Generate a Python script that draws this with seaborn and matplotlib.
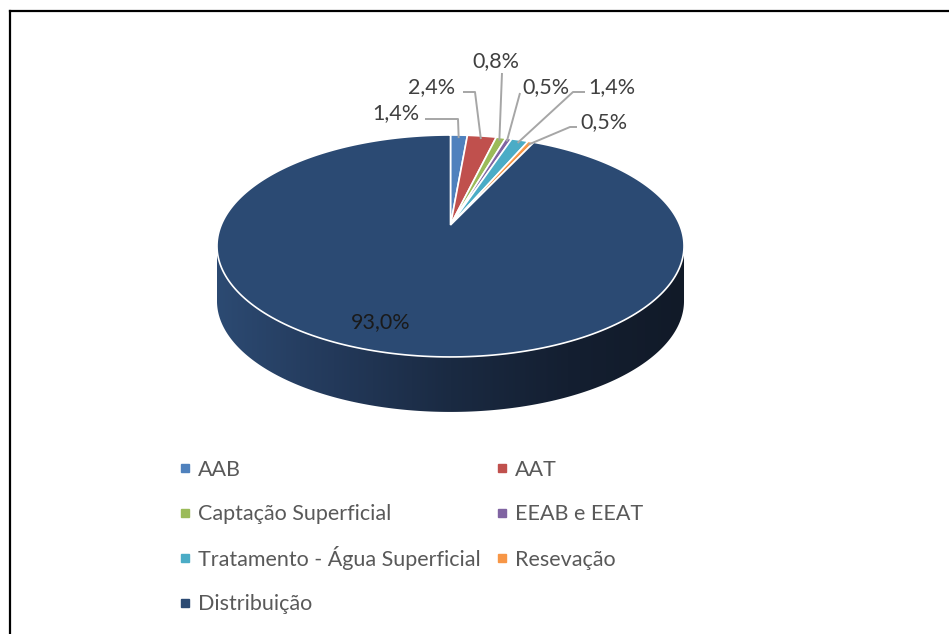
import numpy as np
import matplotlib
matplotlib.use("Agg")
import matplotlib.pyplot as plt
import matplotlib.transforms as mtransforms
from matplotlib.path import Path
from matplotlib.patches import Polygon
from matplotlib.colors import LinearSegmentedColormap
import seaborn as sns

# ---- data -------------------------------------------------------------
categories = ["AAB", "AAT", "Captação Superficial", "EEAB e EEAT",
              "Tratamento - Água Superficial", "Resevação", "Distribuição"]
shares = [1.4, 2.4, 0.8, 0.5, 1.4, 0.5, 93.0]
share_labels = ["1,4%", "2,4%", "0,8%", "0,5%", "1,4%", "0,5%", "93,0%"]
colors = ["#4f81bd", "#c0504d", "#9bbb59", "#8064a2",
          "#4bacc6", "#f79646", "#2b4a73"]

# ---- style ------------------------------------------------------------
sns.set_theme(style="white")
plt.rcParams["font.family"] = ["Lato", "DejaVu Sans"]
palette = sns.color_palette(colors)
FS = 15.5

W, H = 949, 634
fig = plt.figure(figsize=(W / 100, H / 100), dpi=100)
ax = fig.add_axes([0, 0, 1, 1])

# pixel-like coordinates: origin at the pie apex, y pointing up
APEX_X, APEX_Y = 450.5, 225.0


def to_ax(px, py):
    return px - APEX_X, APEX_Y - py


class TiltedDisk(mtransforms.Transform):
    """Perspective view of the unit disk lying on a tilted plane."""
    input_dims = output_dims = 2
    is_separable = False
    has_inverse = False

    def __init__(self, p, sx, sy):
        super().__init__()
        self.p, self.sx, self.sy = p, sx, sy

    def transform_non_affine(self, values):
        v = np.asarray(values, float).reshape(-1, 2)
        w = 1.0 + self.p * v[:, 1]
        return np.column_stack([self.sx * v[:, 0] / w, self.sy * v[:, 1] / w])

    def transform_path_non_affine(self, path):
        # flatten the curves finely before projecting
        k = 2000.0
        big = mtransforms.Affine2D().scale(k).transform_path(path)
        verts, codes = [], []
        for poly in big.to_polygons(closed_only=False):
            c = np.full(len(poly), Path.LINETO)
            c[0] = Path.MOVETO
            verts.append(poly / k)
            codes.append(c)
        verts = np.concatenate(verts)
        return Path(self.transform_non_affine(verts), np.concatenate(codes))


P = 0.189
disk = TiltedDisk(P, 229.3, 107.0)
DEPTH = 55.0

# ---- side wall of the pie (front rim extruded downwards) ---------------
t = np.linspace(np.pi + np.arcsin(P), 2 * np.pi - np.arcsin(P), 400)
rim = disk.transform(np.column_stack([np.cos(t), np.sin(t)]))
bottom = rim.copy()
bottom[:, 1] -= DEPTH
wall = np.vstack([rim, bottom[::-1]])
wall_patch = Polygon(wall, closed=True, facecolor="none", edgecolor="none")
ax.add_patch(wall_patch)
side_cmap = LinearSegmentedColormap.from_list(
    "side", ["#2c4a72", "#23395a", "#1a2a42", "#141f31", "#111a28"])
grad = np.linspace(0, 1, 256)[None, :]
img = ax.imshow(grad, cmap=side_cmap, aspect="auto", zorder=1,
                extent=[wall[:, 0].min(), wall[:, 0].max(),
                        wall[:, 1].min(), wall[:, 1].max()],
                interpolation="bilinear")
img.set_clip_path(wall_patch)

# ---- top face ---------------------------------------------------------
wedges, _ = ax.pie(shares, colors=palette, startangle=90, counterclock=False,
                   radius=1, wedgeprops=dict(edgecolor="white", linewidth=1.2))
for w in wedges:
    w.set_transform(disk + ax.transData)
    w.set_zorder(2)

# ---- percentage labels with leader lines ------------------------------
label_layout = [
    ((396, 113), (425, 119), (458, 119)),
    ((432, 87), (463, 92), (475, 92)),
    ((496, 61), (502, 73), (502, 73)),
    ((546, 87), (520, 93), (520, 93)),
    ((612, 87), (585, 92), (573, 92)),
    ((604, 122), (577, 127), (570, 127)),
]
bounds = np.concatenate([[0], np.cumsum(shares)]) / np.sum(shares)
for i, (txt_pos, start, elbow) in enumerate(label_layout):
    mid = np.pi / 2 - 2 * np.pi * (bounds[i] + bounds[i + 1]) / 2
    anchor = disk.transform([[0.96 * np.cos(mid), 0.96 * np.sin(mid)]])[0]
    xs = [to_ax(*start)[0], to_ax(*elbow)[0], anchor[0]]
    ys = [to_ax(*start)[1], to_ax(*elbow)[1], anchor[1]]
    ax.plot(xs, ys, color="#a6a6a6", lw=1.4, zorder=3, solid_capstyle="butt")
    ax.text(*to_ax(*txt_pos), share_labels[i], ha="center", va="center",
            fontsize=FS, color="#404040", zorder=4)

ax.text(*to_ax(381, 322), share_labels[-1], ha="center", va="center",
        fontsize=FS, color="#1a1a1a", zorder=4)

# ---- legend: two columns, filled row by row ---------------------------
legend_cols = [185, 502]            # marker x of each column
legend_rows = [468, 513, 558, 603]  # marker y of each row
for i, name in enumerate(categories):
    mx, my = legend_cols[i % 2], legend_rows[i // 2]
    ax.plot(*to_ax(mx, my), marker="s", markersize=5.2, linestyle="",
            color=palette[i], zorder=4)
    ax.text(*to_ax(mx + 13, my + 7.5), name, ha="left", va="baseline",
            fontsize=FS, color="#595959", zorder=4)

# ---- frame of the chart area ------------------------------------------
ax.plot([to_ax(9.5, 0)[0]] * 2, [to_ax(0, 10.5)[1], to_ax(0, H)[1]],
        color="black", lw=1.6, solid_capstyle="projecting", zorder=5)
ax.plot([to_ax(9.5, 0)[0], to_ax(W, 0)[0]], [to_ax(0, 10.5)[1]] * 2,
        color="black", lw=1.6, solid_capstyle="projecting", zorder=5)

ax.set_xlim(-APEX_X, W - APEX_X)
ax.set_ylim(APEX_Y - H, APEX_Y)
ax.set_aspect("auto")
ax.axis("off")

fig.savefig("out.png", dpi=100)
